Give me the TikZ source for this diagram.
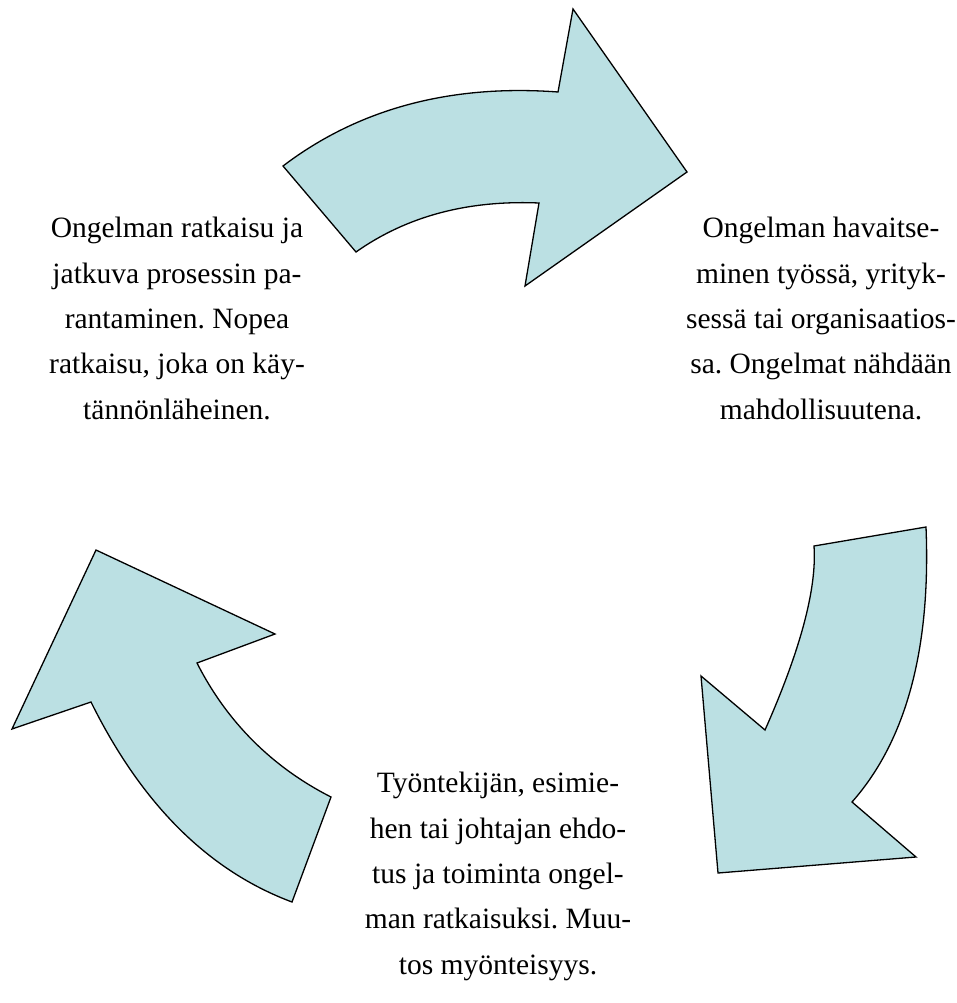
\documentclass[tikz,border=0pt]{standalone}
\usepackage{fontspec}
\setmainfont{Liberation Serif}
\usepackage{tikz}
\definecolor{arrowblue}{RGB}{187,224,227}
\frenchspacing

\begin{document}
\begin{tikzpicture}[x=1pt,y=-1pt,
                    bigarrow/.style={fill=arrowblue,draw=black,line width=1.3pt,line join=miter},
                    cycletext/.style={align=center,anchor=base,inner sep=0pt,
                                      font=\fontsize{29.5}{45.3}\selectfont}]
    \useasboundingbox (0,0) rectangle (957,1003);

    % top arrow
    \draw[bigarrow] (283,166) .. controls (358,109) and (450,84) .. (558,92)
        -- (573,9) -- (687,172) -- (525,286) -- (539,203)
        .. controls (468,200) and (407,216) .. (356,252) -- cycle;
    % right arrow
    \draw[bigarrow] (926,527) .. controls (931,649) and (906,741) .. (852,802)
        -- (916,857) -- (718,873) -- (701,676) -- (765,730)
        .. controls (800,651) and (817,589) .. (814,546) -- cycle;
    % left arrow
    \draw[bigarrow] (292,902) .. controls (209,871) and (142,805) .. (91,702)
        -- (12,729) -- (96,550) -- (275,634) -- (197,663)
        .. controls (227,722) and (272,767) .. (331,797) -- cycle;

    % base anchor sits on the last line
    \node[cycletext] (solve) at (177,419)
        {Ongelman ratkaisu ja\\jatkuva prosessin pa-\\rantaminen. Nopea\\ratkaisu, joka on käy-\\tännönläheinen.};
    \node[cycletext] (notice) at (821,419)
        {Ongelman havaitse-\\minen työssä, yrityk-\\sessä tai organisaatios-\\sa. Ongelmat nähdään\\mahdollisuutena.};
    \node[cycletext] (propose) at (498,974)
        {Työntekijän, esimie-\\hen tai johtajan ehdo-\\tus ja toiminta ongel-\\man ratkaisuksi. Muu-\\tos myönteisyys.};
\end{tikzpicture}
\end{document}
